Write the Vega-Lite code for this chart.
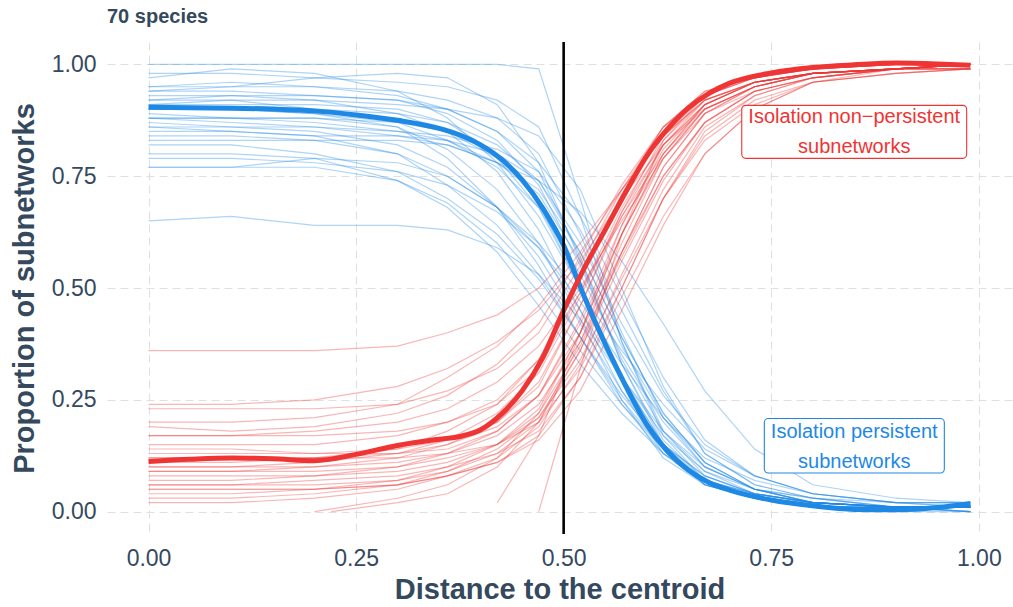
{
"$schema":"https://vega.github.io/schema/vega-lite/v6.json",
"autosize":{"type":"none"},
"padding":{"left":107,"top":42,"right":1,"bottom":73},
"width":905,"height":492,
"background":"white",
"title":{"text":"70 species","anchor":"start","frame":"group","fontSize":20,"fontWeight":"bold","color":"#34495E","font":"Liberation Sans","offset":14},
"config":{"view":{"stroke":null},"font":"Liberation Sans","axis":{"domain":false,"ticks":false,"grid":true,"gridColor":"#E0E0E0","gridDash":[8,5],"gridWidth":1.1,"labelFont":"Liberation Sans","labelFontSize":23,"labelColor":"#34495E","titleFont":"Liberation Sans","titleFontSize":29,"titleFontWeight":"bold","titleColor":"#34495E"}},
"datasets":{
"thin":[
{"g":"B","s":1,"x":0,"y":1},{"g":"B","s":1,"x":0.1,"y":1},{"g":"B","s":1,"x":0.2,"y":1},{"g":"B","s":1,"x":0.3,"y":1},{"g":"B","s":1,"x":0.36,"y":1},{"g":"B","s":1,"x":0.42,"y":1},{"g":"B","s":1,"x":0.47,"y":0.99},{"g":"B","s":1,"x":0.52,"y":0.7},{"g":"B","s":1,"x":0.57,"y":0.38},{"g":"B","s":1,"x":0.62,"y":0.17},{"g":"B","s":1,"x":0.67,"y":0.07},{"g":"B","s":1,"x":0.73,"y":0.03},{"g":"B","s":1,"x":0.8,"y":0.01},{"g":"B","s":1,"x":0.9,"y":0},{"g":"B","s":1,"x":0.99,"y":0},
{"g":"B","s":2,"x":0,"y":0.98},{"g":"B","s":2,"x":0.1,"y":0.98},{"g":"B","s":2,"x":0.2,"y":0.97},{"g":"B","s":2,"x":0.3,"y":0.96},{"g":"B","s":2,"x":0.36,"y":0.95},{"g":"B","s":2,"x":0.42,"y":0.92},{"g":"B","s":2,"x":0.47,"y":0.86},{"g":"B","s":2,"x":0.52,"y":0.66},{"g":"B","s":2,"x":0.57,"y":0.38},{"g":"B","s":2,"x":0.62,"y":0.18},{"g":"B","s":2,"x":0.67,"y":0.08},{"g":"B","s":2,"x":0.73,"y":0.04},{"g":"B","s":2,"x":0.8,"y":0.02},{"g":"B","s":2,"x":0.9,"y":0.01},{"g":"B","s":2,"x":0.99,"y":0.01},
{"g":"B","s":3,"x":0,"y":0.97},{"g":"B","s":3,"x":0.1,"y":0.99},{"g":"B","s":3,"x":0.2,"y":0.98},{"g":"B","s":3,"x":0.3,"y":0.94},{"g":"B","s":3,"x":0.36,"y":0.88},{"g":"B","s":3,"x":0.42,"y":0.78},{"g":"B","s":3,"x":0.47,"y":0.66},{"g":"B","s":3,"x":0.52,"y":0.5},{"g":"B","s":3,"x":0.57,"y":0.3},{"g":"B","s":3,"x":0.62,"y":0.15},{"g":"B","s":3,"x":0.67,"y":0.06},{"g":"B","s":3,"x":0.73,"y":0.03},{"g":"B","s":3,"x":0.8,"y":0.01},{"g":"B","s":3,"x":0.9,"y":0.01},{"g":"B","s":3,"x":0.99,"y":0},
{"g":"B","s":4,"x":0,"y":0.95},{"g":"B","s":4,"x":0.1,"y":0.95},{"g":"B","s":4,"x":0.2,"y":0.95},{"g":"B","s":4,"x":0.3,"y":0.94},{"g":"B","s":4,"x":0.36,"y":0.92},{"g":"B","s":4,"x":0.42,"y":0.88},{"g":"B","s":4,"x":0.47,"y":0.8},{"g":"B","s":4,"x":0.52,"y":0.62},{"g":"B","s":4,"x":0.57,"y":0.4},{"g":"B","s":4,"x":0.62,"y":0.21},{"g":"B","s":4,"x":0.67,"y":0.1},{"g":"B","s":4,"x":0.73,"y":0.05},{"g":"B","s":4,"x":0.8,"y":0.02},{"g":"B","s":4,"x":0.9,"y":0.01},{"g":"B","s":4,"x":0.99,"y":0.01},
{"g":"B","s":5,"x":0,"y":0.94},{"g":"B","s":5,"x":0.1,"y":0.94},{"g":"B","s":5,"x":0.2,"y":0.93},{"g":"B","s":5,"x":0.3,"y":0.92},{"g":"B","s":5,"x":0.36,"y":0.89},{"g":"B","s":5,"x":0.42,"y":0.83},{"g":"B","s":5,"x":0.47,"y":0.73},{"g":"B","s":5,"x":0.52,"y":0.55},{"g":"B","s":5,"x":0.57,"y":0.34},{"g":"B","s":5,"x":0.62,"y":0.18},{"g":"B","s":5,"x":0.67,"y":0.09},{"g":"B","s":5,"x":0.73,"y":0.04},{"g":"B","s":5,"x":0.8,"y":0.02},{"g":"B","s":5,"x":0.9,"y":0.01},{"g":"B","s":5,"x":0.99,"y":0.01},
{"g":"B","s":6,"x":0,"y":0.93},{"g":"B","s":6,"x":0.1,"y":0.93},{"g":"B","s":6,"x":0.2,"y":0.92},{"g":"B","s":6,"x":0.3,"y":0.89},{"g":"B","s":6,"x":0.36,"y":0.85},{"g":"B","s":6,"x":0.42,"y":0.76},{"g":"B","s":6,"x":0.47,"y":0.63},{"g":"B","s":6,"x":0.52,"y":0.45},{"g":"B","s":6,"x":0.57,"y":0.27},{"g":"B","s":6,"x":0.62,"y":0.13},{"g":"B","s":6,"x":0.67,"y":0.06},{"g":"B","s":6,"x":0.73,"y":0.03},{"g":"B","s":6,"x":0.8,"y":0.01},{"g":"B","s":6,"x":0.9,"y":0.01},{"g":"B","s":6,"x":0.99,"y":0},
{"g":"B","s":7,"x":0,"y":0.92},{"g":"B","s":7,"x":0.1,"y":0.92},{"g":"B","s":7,"x":0.2,"y":0.9},{"g":"B","s":7,"x":0.3,"y":0.89},{"g":"B","s":7,"x":0.36,"y":0.87},{"g":"B","s":7,"x":0.42,"y":0.82},{"g":"B","s":7,"x":0.47,"y":0.74},{"g":"B","s":7,"x":0.52,"y":0.58},{"g":"B","s":7,"x":0.57,"y":0.39},{"g":"B","s":7,"x":0.62,"y":0.22},{"g":"B","s":7,"x":0.67,"y":0.11},{"g":"B","s":7,"x":0.73,"y":0.05},{"g":"B","s":7,"x":0.8,"y":0.02},{"g":"B","s":7,"x":0.9,"y":0.01},{"g":"B","s":7,"x":0.99,"y":0.01},
{"g":"B","s":8,"x":0,"y":0.91},{"g":"B","s":8,"x":0.1,"y":0.91},{"g":"B","s":8,"x":0.2,"y":0.91},{"g":"B","s":8,"x":0.3,"y":0.9},{"g":"B","s":8,"x":0.36,"y":0.87},{"g":"B","s":8,"x":0.42,"y":0.8},{"g":"B","s":8,"x":0.47,"y":0.69},{"g":"B","s":8,"x":0.52,"y":0.5},{"g":"B","s":8,"x":0.57,"y":0.3},{"g":"B","s":8,"x":0.62,"y":0.15},{"g":"B","s":8,"x":0.67,"y":0.07},{"g":"B","s":8,"x":0.73,"y":0.03},{"g":"B","s":8,"x":0.8,"y":0.01},{"g":"B","s":8,"x":0.9,"y":0.01},{"g":"B","s":8,"x":0.99,"y":0.01},
{"g":"B","s":9,"x":0,"y":0.9},{"g":"B","s":9,"x":0.1,"y":0.9},{"g":"B","s":9,"x":0.2,"y":0.89},{"g":"B","s":9,"x":0.3,"y":0.87},{"g":"B","s":9,"x":0.36,"y":0.83},{"g":"B","s":9,"x":0.42,"y":0.77},{"g":"B","s":9,"x":0.47,"y":0.68},{"g":"B","s":9,"x":0.52,"y":0.53},{"g":"B","s":9,"x":0.57,"y":0.35},{"g":"B","s":9,"x":0.62,"y":0.2},{"g":"B","s":9,"x":0.67,"y":0.1},{"g":"B","s":9,"x":0.73,"y":0.05},{"g":"B","s":9,"x":0.8,"y":0.03},{"g":"B","s":9,"x":0.9,"y":0.02},{"g":"B","s":9,"x":0.99,"y":0.02},
{"g":"B","s":10,"x":0,"y":0.89},{"g":"B","s":10,"x":0.1,"y":0.88},{"g":"B","s":10,"x":0.2,"y":0.88},{"g":"B","s":10,"x":0.3,"y":0.86},{"g":"B","s":10,"x":0.36,"y":0.81},{"g":"B","s":10,"x":0.42,"y":0.72},{"g":"B","s":10,"x":0.47,"y":0.6},{"g":"B","s":10,"x":0.52,"y":0.43},{"g":"B","s":10,"x":0.57,"y":0.25},{"g":"B","s":10,"x":0.62,"y":0.12},{"g":"B","s":10,"x":0.67,"y":0.06},{"g":"B","s":10,"x":0.73,"y":0.03},{"g":"B","s":10,"x":0.8,"y":0.01},{"g":"B","s":10,"x":0.9,"y":0.01},{"g":"B","s":10,"x":0.99,"y":0.01},
{"g":"B","s":11,"x":0,"y":0.88},{"g":"B","s":11,"x":0.1,"y":0.88},{"g":"B","s":11,"x":0.2,"y":0.87},{"g":"B","s":11,"x":0.3,"y":0.85},{"g":"B","s":11,"x":0.36,"y":0.83},{"g":"B","s":11,"x":0.42,"y":0.78},{"g":"B","s":11,"x":0.47,"y":0.71},{"g":"B","s":11,"x":0.52,"y":0.56},{"g":"B","s":11,"x":0.57,"y":0.37},{"g":"B","s":11,"x":0.62,"y":0.21},{"g":"B","s":11,"x":0.67,"y":0.11},{"g":"B","s":11,"x":0.73,"y":0.05},{"g":"B","s":11,"x":0.8,"y":0.02},{"g":"B","s":11,"x":0.9,"y":0.01},{"g":"B","s":11,"x":0.99,"y":0.01},
{"g":"B","s":12,"x":0,"y":0.88},{"g":"B","s":12,"x":0.1,"y":0.88},{"g":"B","s":12,"x":0.2,"y":0.88},{"g":"B","s":12,"x":0.3,"y":0.87},{"g":"B","s":12,"x":0.36,"y":0.85},{"g":"B","s":12,"x":0.42,"y":0.79},{"g":"B","s":12,"x":0.47,"y":0.68},{"g":"B","s":12,"x":0.52,"y":0.5},{"g":"B","s":12,"x":0.57,"y":0.3},{"g":"B","s":12,"x":0.62,"y":0.14},{"g":"B","s":12,"x":0.67,"y":0.06},{"g":"B","s":12,"x":0.73,"y":0.03},{"g":"B","s":12,"x":0.8,"y":0.01},{"g":"B","s":12,"x":0.9,"y":0.01},{"g":"B","s":12,"x":0.99,"y":0},
{"g":"B","s":13,"x":0,"y":0.87},{"g":"B","s":13,"x":0.1,"y":0.86},{"g":"B","s":13,"x":0.2,"y":0.85},{"g":"B","s":13,"x":0.3,"y":0.82},{"g":"B","s":13,"x":0.36,"y":0.77},{"g":"B","s":13,"x":0.42,"y":0.68},{"g":"B","s":13,"x":0.47,"y":0.57},{"g":"B","s":13,"x":0.52,"y":0.42},{"g":"B","s":13,"x":0.57,"y":0.27},{"g":"B","s":13,"x":0.62,"y":0.15},{"g":"B","s":13,"x":0.67,"y":0.08},{"g":"B","s":13,"x":0.73,"y":0.04},{"g":"B","s":13,"x":0.8,"y":0.02},{"g":"B","s":13,"x":0.9,"y":0.01},{"g":"B","s":13,"x":0.99,"y":0.01},
{"g":"B","s":14,"x":0,"y":0.86},{"g":"B","s":14,"x":0.1,"y":0.86},{"g":"B","s":14,"x":0.2,"y":0.86},{"g":"B","s":14,"x":0.3,"y":0.85},{"g":"B","s":14,"x":0.36,"y":0.84},{"g":"B","s":14,"x":0.42,"y":0.81},{"g":"B","s":14,"x":0.47,"y":0.76},{"g":"B","s":14,"x":0.52,"y":0.63},{"g":"B","s":14,"x":0.57,"y":0.45},{"g":"B","s":14,"x":0.62,"y":0.27},{"g":"B","s":14,"x":0.67,"y":0.13},{"g":"B","s":14,"x":0.73,"y":0.06},{"g":"B","s":14,"x":0.8,"y":0.03},{"g":"B","s":14,"x":0.9,"y":0.01},{"g":"B","s":14,"x":0.99,"y":0.01},
{"g":"B","s":15,"x":0,"y":0.84},{"g":"B","s":15,"x":0.1,"y":0.84},{"g":"B","s":15,"x":0.2,"y":0.83},{"g":"B","s":15,"x":0.3,"y":0.8},{"g":"B","s":15,"x":0.36,"y":0.75},{"g":"B","s":15,"x":0.42,"y":0.68},{"g":"B","s":15,"x":0.47,"y":0.59},{"g":"B","s":15,"x":0.52,"y":0.45},{"g":"B","s":15,"x":0.57,"y":0.3},{"g":"B","s":15,"x":0.62,"y":0.17},{"g":"B","s":15,"x":0.67,"y":0.09},{"g":"B","s":15,"x":0.73,"y":0.05},{"g":"B","s":15,"x":0.8,"y":0.02},{"g":"B","s":15,"x":0.9,"y":0.01},{"g":"B","s":15,"x":0.99,"y":0.01},
{"g":"B","s":16,"x":0,"y":0.83},{"g":"B","s":16,"x":0.1,"y":0.83},{"g":"B","s":16,"x":0.2,"y":0.83},{"g":"B","s":16,"x":0.3,"y":0.83},{"g":"B","s":16,"x":0.36,"y":0.82},{"g":"B","s":16,"x":0.42,"y":0.78},{"g":"B","s":16,"x":0.47,"y":0.72},{"g":"B","s":16,"x":0.52,"y":0.58},{"g":"B","s":16,"x":0.57,"y":0.39},{"g":"B","s":16,"x":0.62,"y":0.22},{"g":"B","s":16,"x":0.67,"y":0.11},{"g":"B","s":16,"x":0.73,"y":0.05},{"g":"B","s":16,"x":0.8,"y":0.02},{"g":"B","s":16,"x":0.9,"y":0.01},{"g":"B","s":16,"x":0.99,"y":0.01},
{"g":"B","s":17,"x":0,"y":0.82},{"g":"B","s":17,"x":0.1,"y":0.82},{"g":"B","s":17,"x":0.2,"y":0.8},{"g":"B","s":17,"x":0.3,"y":0.76},{"g":"B","s":17,"x":0.36,"y":0.7},{"g":"B","s":17,"x":0.42,"y":0.62},{"g":"B","s":17,"x":0.47,"y":0.52},{"g":"B","s":17,"x":0.52,"y":0.39},{"g":"B","s":17,"x":0.57,"y":0.26},{"g":"B","s":17,"x":0.62,"y":0.15},{"g":"B","s":17,"x":0.67,"y":0.08},{"g":"B","s":17,"x":0.73,"y":0.04},{"g":"B","s":17,"x":0.8,"y":0.02},{"g":"B","s":17,"x":0.9,"y":0.01},{"g":"B","s":17,"x":0.99,"y":0.01},
{"g":"B","s":18,"x":0,"y":0.79},{"g":"B","s":18,"x":0.1,"y":0.79},{"g":"B","s":18,"x":0.2,"y":0.78},{"g":"B","s":18,"x":0.3,"y":0.76},{"g":"B","s":18,"x":0.36,"y":0.73},{"g":"B","s":18,"x":0.42,"y":0.67},{"g":"B","s":18,"x":0.47,"y":0.59},{"g":"B","s":18,"x":0.52,"y":0.47},{"g":"B","s":18,"x":0.57,"y":0.33},{"g":"B","s":18,"x":0.62,"y":0.21},{"g":"B","s":18,"x":0.67,"y":0.12},{"g":"B","s":18,"x":0.73,"y":0.07},{"g":"B","s":18,"x":0.8,"y":0.04},{"g":"B","s":18,"x":0.9,"y":0.02},{"g":"B","s":18,"x":0.99,"y":0.02},
{"g":"B","s":19,"x":0,"y":0.77},{"g":"B","s":19,"x":0.1,"y":0.77},{"g":"B","s":19,"x":0.2,"y":0.77},{"g":"B","s":19,"x":0.3,"y":0.74},{"g":"B","s":19,"x":0.36,"y":0.69},{"g":"B","s":19,"x":0.42,"y":0.6},{"g":"B","s":19,"x":0.47,"y":0.49},{"g":"B","s":19,"x":0.52,"y":0.36},{"g":"B","s":19,"x":0.57,"y":0.24},{"g":"B","s":19,"x":0.62,"y":0.14},{"g":"B","s":19,"x":0.67,"y":0.07},{"g":"B","s":19,"x":0.73,"y":0.04},{"g":"B","s":19,"x":0.8,"y":0.02},{"g":"B","s":19,"x":0.9,"y":0.01},{"g":"B","s":19,"x":0.99,"y":0.01},
{"g":"B","s":20,"x":0,"y":0.77},{"g":"B","s":20,"x":0.1,"y":0.77},{"g":"B","s":20,"x":0.2,"y":0.79},{"g":"B","s":20,"x":0.3,"y":0.78},{"g":"B","s":20,"x":0.36,"y":0.75},{"g":"B","s":20,"x":0.42,"y":0.68},{"g":"B","s":20,"x":0.47,"y":0.6},{"g":"B","s":20,"x":0.52,"y":0.49},{"g":"B","s":20,"x":0.57,"y":0.36},{"g":"B","s":20,"x":0.62,"y":0.24},{"g":"B","s":20,"x":0.67,"y":0.14},{"g":"B","s":20,"x":0.73,"y":0.08},{"g":"B","s":20,"x":0.8,"y":0.04},{"g":"B","s":20,"x":0.9,"y":0.02},{"g":"B","s":20,"x":0.99,"y":0.01},
{"g":"B","s":21,"x":0,"y":0.65},{"g":"B","s":21,"x":0.1,"y":0.66},{"g":"B","s":21,"x":0.2,"y":0.64},{"g":"B","s":21,"x":0.3,"y":0.64},{"g":"B","s":21,"x":0.36,"y":0.63},{"g":"B","s":21,"x":0.42,"y":0.59},{"g":"B","s":21,"x":0.47,"y":0.53},{"g":"B","s":21,"x":0.52,"y":0.43},{"g":"B","s":21,"x":0.57,"y":0.3},{"g":"B","s":21,"x":0.62,"y":0.18},{"g":"B","s":21,"x":0.67,"y":0.1},{"g":"B","s":21,"x":0.73,"y":0.05},{"g":"B","s":21,"x":0.8,"y":0.03},{"g":"B","s":21,"x":0.9,"y":0.01},{"g":"B","s":21,"x":0.99,"y":0.01},
{"g":"B","s":22,"x":0,"y":0.95},{"g":"B","s":22,"x":0.1,"y":0.96},{"g":"B","s":22,"x":0.2,"y":0.95},{"g":"B","s":22,"x":0.3,"y":0.93},{"g":"B","s":22,"x":0.36,"y":0.9},{"g":"B","s":22,"x":0.42,"y":0.85},{"g":"B","s":22,"x":0.47,"y":0.78},{"g":"B","s":22,"x":0.52,"y":0.66},{"g":"B","s":22,"x":0.57,"y":0.48},{"g":"B","s":22,"x":0.62,"y":0.3},{"g":"B","s":22,"x":0.67,"y":0.16},{"g":"B","s":22,"x":0.73,"y":0.08},{"g":"B","s":22,"x":0.8,"y":0.04},{"g":"B","s":22,"x":0.9,"y":0.02},{"g":"B","s":22,"x":0.99,"y":0.01},
{"g":"B","s":23,"x":0,"y":0.9},{"g":"B","s":23,"x":0.1,"y":0.9},{"g":"B","s":23,"x":0.2,"y":0.89},{"g":"B","s":23,"x":0.3,"y":0.86},{"g":"B","s":23,"x":0.36,"y":0.79},{"g":"B","s":23,"x":0.42,"y":0.68},{"g":"B","s":23,"x":0.47,"y":0.55},{"g":"B","s":23,"x":0.52,"y":0.39},{"g":"B","s":23,"x":0.57,"y":0.24},{"g":"B","s":23,"x":0.62,"y":0.13},{"g":"B","s":23,"x":0.67,"y":0.07},{"g":"B","s":23,"x":0.73,"y":0.03},{"g":"B","s":23,"x":0.8,"y":0.02},{"g":"B","s":23,"x":0.9,"y":0.01},{"g":"B","s":23,"x":0.99,"y":0.01},
{"g":"B","s":24,"x":0,"y":0.92},{"g":"B","s":24,"x":0.1,"y":0.93},{"g":"B","s":24,"x":0.2,"y":0.93},{"g":"B","s":24,"x":0.3,"y":0.92},{"g":"B","s":24,"x":0.36,"y":0.9},{"g":"B","s":24,"x":0.42,"y":0.85},{"g":"B","s":24,"x":0.47,"y":0.76},{"g":"B","s":24,"x":0.52,"y":0.57},{"g":"B","s":24,"x":0.57,"y":0.33},{"g":"B","s":24,"x":0.62,"y":0.15},{"g":"B","s":24,"x":0.67,"y":0.06},{"g":"B","s":24,"x":0.73,"y":0.03},{"g":"B","s":24,"x":0.8,"y":0.01},{"g":"B","s":24,"x":0.9,"y":0.01},{"g":"B","s":24,"x":0.99,"y":0},
{"g":"B","s":25,"x":0,"y":0.86},{"g":"B","s":25,"x":0.1,"y":0.85},{"g":"B","s":25,"x":0.2,"y":0.84},{"g":"B","s":25,"x":0.3,"y":0.8},{"g":"B","s":25,"x":0.36,"y":0.73},{"g":"B","s":25,"x":0.42,"y":0.64},{"g":"B","s":25,"x":0.47,"y":0.53},{"g":"B","s":25,"x":0.52,"y":0.39},{"g":"B","s":25,"x":0.57,"y":0.25},{"g":"B","s":25,"x":0.62,"y":0.14},{"g":"B","s":25,"x":0.67,"y":0.07},{"g":"B","s":25,"x":0.73,"y":0.04},{"g":"B","s":25,"x":0.8,"y":0.02},{"g":"B","s":25,"x":0.9,"y":0.01},{"g":"B","s":25,"x":0.99,"y":0.01},
{"g":"B","s":26,"x":0,"y":0.94},{"g":"B","s":26,"x":0.1,"y":0.95},{"g":"B","s":26,"x":0.2,"y":0.97},{"g":"B","s":26,"x":0.3,"y":0.98},{"g":"B","s":26,"x":0.36,"y":0.97},{"g":"B","s":26,"x":0.42,"y":0.91},{"g":"B","s":26,"x":0.47,"y":0.78},{"g":"B","s":26,"x":0.52,"y":0.56},{"g":"B","s":26,"x":0.57,"y":0.33},{"g":"B","s":26,"x":0.62,"y":0.16},{"g":"B","s":26,"x":0.67,"y":0.07},{"g":"B","s":26,"x":0.73,"y":0.03},{"g":"B","s":26,"x":0.8,"y":0.01},{"g":"B","s":26,"x":0.9,"y":0.01},{"g":"B","s":26,"x":0.99,"y":0},
{"g":"B","s":27,"x":0,"y":0.88},{"g":"B","s":27,"x":0.1,"y":0.87},{"g":"B","s":27,"x":0.2,"y":0.86},{"g":"B","s":27,"x":0.3,"y":0.84},{"g":"B","s":27,"x":0.36,"y":0.82},{"g":"B","s":27,"x":0.42,"y":0.78},{"g":"B","s":27,"x":0.47,"y":0.74},{"g":"B","s":27,"x":0.52,"y":0.67},{"g":"B","s":27,"x":0.57,"y":0.56},{"g":"B","s":27,"x":0.62,"y":0.42},{"g":"B","s":27,"x":0.67,"y":0.27},{"g":"B","s":27,"x":0.73,"y":0.14},{"g":"B","s":27,"x":0.8,"y":0.06},{"g":"B","s":27,"x":0.9,"y":0.03},{"g":"B","s":27,"x":0.99,"y":0.02},
{"g":"B","s":28,"x":0,"y":0.8},{"g":"B","s":28,"x":0.1,"y":0.8},{"g":"B","s":28,"x":0.2,"y":0.79},{"g":"B","s":28,"x":0.3,"y":0.74},{"g":"B","s":28,"x":0.36,"y":0.68},{"g":"B","s":28,"x":0.42,"y":0.58},{"g":"B","s":28,"x":0.47,"y":0.46},{"g":"B","s":28,"x":0.52,"y":0.33},{"g":"B","s":28,"x":0.57,"y":0.22},{"g":"B","s":28,"x":0.62,"y":0.13},{"g":"B","s":28,"x":0.67,"y":0.07},{"g":"B","s":28,"x":0.73,"y":0.04},{"g":"B","s":28,"x":0.8,"y":0.02},{"g":"B","s":28,"x":0.9,"y":0.01},{"g":"B","s":28,"x":0.99,"y":0.01},
{"g":"B","s":29,"x":0,"y":0.91},{"g":"B","s":29,"x":0.1,"y":0.92},{"g":"B","s":29,"x":0.2,"y":0.92},{"g":"B","s":29,"x":0.3,"y":0.91},{"g":"B","s":29,"x":0.36,"y":0.9},{"g":"B","s":29,"x":0.42,"y":0.88},{"g":"B","s":29,"x":0.47,"y":0.84},{"g":"B","s":29,"x":0.52,"y":0.72},{"g":"B","s":29,"x":0.57,"y":0.5},{"g":"B","s":29,"x":0.62,"y":0.28},{"g":"B","s":29,"x":0.67,"y":0.13},{"g":"B","s":29,"x":0.73,"y":0.06},{"g":"B","s":29,"x":0.8,"y":0.03},{"g":"B","s":29,"x":0.9,"y":0.01},{"g":"B","s":29,"x":0.99,"y":0.01},
{"g":"B","s":30,"x":0,"y":0.85},{"g":"B","s":30,"x":0.1,"y":0.85},{"g":"B","s":30,"x":0.2,"y":0.84},{"g":"B","s":30,"x":0.3,"y":0.84},{"g":"B","s":30,"x":0.36,"y":0.83},{"g":"B","s":30,"x":0.42,"y":0.8},{"g":"B","s":30,"x":0.47,"y":0.74},{"g":"B","s":30,"x":0.52,"y":0.6},{"g":"B","s":30,"x":0.57,"y":0.42},{"g":"B","s":30,"x":0.62,"y":0.26},{"g":"B","s":30,"x":0.67,"y":0.15},{"g":"B","s":30,"x":0.73,"y":0.08},{"g":"B","s":30,"x":0.8,"y":0.04},{"g":"B","s":30,"x":0.9,"y":0.02},{"g":"B","s":30,"x":0.99,"y":0.02},
{"g":"R","s":31,"x":0,"y":0.36},{"g":"R","s":31,"x":0.1,"y":0.36},{"g":"R","s":31,"x":0.2,"y":0.36},{"g":"R","s":31,"x":0.3,"y":0.37},{"g":"R","s":31,"x":0.36,"y":0.4},{"g":"R","s":31,"x":0.42,"y":0.44},{"g":"R","s":31,"x":0.47,"y":0.5},{"g":"R","s":31,"x":0.52,"y":0.6},{"g":"R","s":31,"x":0.57,"y":0.72},{"g":"R","s":31,"x":0.62,"y":0.84},{"g":"R","s":31,"x":0.67,"y":0.92},{"g":"R","s":31,"x":0.73,"y":0.96},{"g":"R","s":31,"x":0.8,"y":0.98},{"g":"R","s":31,"x":0.9,"y":0.99},{"g":"R","s":31,"x":0.99,"y":1},
{"g":"R","s":32,"x":0,"y":0.24},{"g":"R","s":32,"x":0.1,"y":0.24},{"g":"R","s":32,"x":0.2,"y":0.25},{"g":"R","s":32,"x":0.3,"y":0.28},{"g":"R","s":32,"x":0.36,"y":0.32},{"g":"R","s":32,"x":0.42,"y":0.38},{"g":"R","s":32,"x":0.47,"y":0.45},{"g":"R","s":32,"x":0.52,"y":0.56},{"g":"R","s":32,"x":0.57,"y":0.7},{"g":"R","s":32,"x":0.62,"y":0.82},{"g":"R","s":32,"x":0.67,"y":0.9},{"g":"R","s":32,"x":0.73,"y":0.95},{"g":"R","s":32,"x":0.8,"y":0.98},{"g":"R","s":32,"x":0.9,"y":0.99},{"g":"R","s":32,"x":0.99,"y":0.99},
{"g":"R","s":33,"x":0,"y":0.23},{"g":"R","s":33,"x":0.1,"y":0.23},{"g":"R","s":33,"x":0.2,"y":0.23},{"g":"R","s":33,"x":0.3,"y":0.24},{"g":"R","s":33,"x":0.36,"y":0.27},{"g":"R","s":33,"x":0.42,"y":0.32},{"g":"R","s":33,"x":0.47,"y":0.4},{"g":"R","s":33,"x":0.52,"y":0.55},{"g":"R","s":33,"x":0.57,"y":0.72},{"g":"R","s":33,"x":0.62,"y":0.86},{"g":"R","s":33,"x":0.67,"y":0.94},{"g":"R","s":33,"x":0.73,"y":0.97},{"g":"R","s":33,"x":0.8,"y":0.99},{"g":"R","s":33,"x":0.9,"y":1},{"g":"R","s":33,"x":0.99,"y":1},
{"g":"R","s":34,"x":0,"y":0.19},{"g":"R","s":34,"x":0.1,"y":0.18},{"g":"R","s":34,"x":0.2,"y":0.19},{"g":"R","s":34,"x":0.3,"y":0.22},{"g":"R","s":34,"x":0.36,"y":0.26},{"g":"R","s":34,"x":0.42,"y":0.33},{"g":"R","s":34,"x":0.47,"y":0.42},{"g":"R","s":34,"x":0.52,"y":0.57},{"g":"R","s":34,"x":0.57,"y":0.73},{"g":"R","s":34,"x":0.62,"y":0.86},{"g":"R","s":34,"x":0.67,"y":0.93},{"g":"R","s":34,"x":0.73,"y":0.97},{"g":"R","s":34,"x":0.8,"y":0.99},{"g":"R","s":34,"x":0.9,"y":1},{"g":"R","s":34,"x":0.99,"y":1},
{"g":"R","s":35,"x":0,"y":0.17},{"g":"R","s":35,"x":0.1,"y":0.17},{"g":"R","s":35,"x":0.2,"y":0.17},{"g":"R","s":35,"x":0.3,"y":0.18},{"g":"R","s":35,"x":0.36,"y":0.2},{"g":"R","s":35,"x":0.42,"y":0.24},{"g":"R","s":35,"x":0.47,"y":0.32},{"g":"R","s":35,"x":0.52,"y":0.49},{"g":"R","s":35,"x":0.57,"y":0.68},{"g":"R","s":35,"x":0.62,"y":0.83},{"g":"R","s":35,"x":0.67,"y":0.92},{"g":"R","s":35,"x":0.73,"y":0.96},{"g":"R","s":35,"x":0.8,"y":0.98},{"g":"R","s":35,"x":0.9,"y":0.99},{"g":"R","s":35,"x":0.99,"y":1},
{"g":"R","s":36,"x":0,"y":0.17},{"g":"R","s":36,"x":0.1,"y":0.17},{"g":"R","s":36,"x":0.2,"y":0.18},{"g":"R","s":36,"x":0.3,"y":0.2},{"g":"R","s":36,"x":0.36,"y":0.23},{"g":"R","s":36,"x":0.42,"y":0.29},{"g":"R","s":36,"x":0.47,"y":0.37},{"g":"R","s":36,"x":0.52,"y":0.5},{"g":"R","s":36,"x":0.57,"y":0.65},{"g":"R","s":36,"x":0.62,"y":0.79},{"g":"R","s":36,"x":0.67,"y":0.89},{"g":"R","s":36,"x":0.73,"y":0.94},{"g":"R","s":36,"x":0.8,"y":0.97},{"g":"R","s":36,"x":0.9,"y":0.99},{"g":"R","s":36,"x":0.99,"y":0.99},
{"g":"R","s":37,"x":0,"y":0.15},{"g":"R","s":37,"x":0.1,"y":0.15},{"g":"R","s":37,"x":0.2,"y":0.15},{"g":"R","s":37,"x":0.3,"y":0.17},{"g":"R","s":37,"x":0.36,"y":0.2},{"g":"R","s":37,"x":0.42,"y":0.25},{"g":"R","s":37,"x":0.47,"y":0.34},{"g":"R","s":37,"x":0.52,"y":0.49},{"g":"R","s":37,"x":0.57,"y":0.66},{"g":"R","s":37,"x":0.62,"y":0.8},{"g":"R","s":37,"x":0.67,"y":0.9},{"g":"R","s":37,"x":0.73,"y":0.95},{"g":"R","s":37,"x":0.8,"y":0.98},{"g":"R","s":37,"x":0.9,"y":0.99},{"g":"R","s":37,"x":0.99,"y":1},
{"g":"R","s":38,"x":0,"y":0.13},{"g":"R","s":38,"x":0.1,"y":0.13},{"g":"R","s":38,"x":0.2,"y":0.13},{"g":"R","s":38,"x":0.3,"y":0.14},{"g":"R","s":38,"x":0.36,"y":0.16},{"g":"R","s":38,"x":0.42,"y":0.2},{"g":"R","s":38,"x":0.47,"y":0.28},{"g":"R","s":38,"x":0.52,"y":0.46},{"g":"R","s":38,"x":0.57,"y":0.67},{"g":"R","s":38,"x":0.62,"y":0.84},{"g":"R","s":38,"x":0.67,"y":0.93},{"g":"R","s":38,"x":0.73,"y":0.97},{"g":"R","s":38,"x":0.8,"y":0.99},{"g":"R","s":38,"x":0.9,"y":1},{"g":"R","s":38,"x":0.99,"y":1},
{"g":"R","s":39,"x":0,"y":0.12},{"g":"R","s":39,"x":0.1,"y":0.12},{"g":"R","s":39,"x":0.2,"y":0.12},{"g":"R","s":39,"x":0.3,"y":0.13},{"g":"R","s":39,"x":0.36,"y":0.15},{"g":"R","s":39,"x":0.42,"y":0.19},{"g":"R","s":39,"x":0.47,"y":0.26},{"g":"R","s":39,"x":0.52,"y":0.4},{"g":"R","s":39,"x":0.57,"y":0.58},{"g":"R","s":39,"x":0.62,"y":0.75},{"g":"R","s":39,"x":0.67,"y":0.87},{"g":"R","s":39,"x":0.73,"y":0.94},{"g":"R","s":39,"x":0.8,"y":0.97},{"g":"R","s":39,"x":0.9,"y":0.99},{"g":"R","s":39,"x":0.99,"y":0.99},
{"g":"R","s":40,"x":0,"y":0.11},{"g":"R","s":40,"x":0.1,"y":0.11},{"g":"R","s":40,"x":0.2,"y":0.12},{"g":"R","s":40,"x":0.3,"y":0.14},{"g":"R","s":40,"x":0.36,"y":0.18},{"g":"R","s":40,"x":0.42,"y":0.24},{"g":"R","s":40,"x":0.47,"y":0.34},{"g":"R","s":40,"x":0.52,"y":0.52},{"g":"R","s":40,"x":0.57,"y":0.71},{"g":"R","s":40,"x":0.62,"y":0.86},{"g":"R","s":40,"x":0.67,"y":0.94},{"g":"R","s":40,"x":0.73,"y":0.97},{"g":"R","s":40,"x":0.8,"y":0.99},{"g":"R","s":40,"x":0.9,"y":1},{"g":"R","s":40,"x":0.99,"y":1},
{"g":"R","s":41,"x":0,"y":0.1},{"g":"R","s":41,"x":0.1,"y":0.1},{"g":"R","s":41,"x":0.2,"y":0.1},{"g":"R","s":41,"x":0.3,"y":0.11},{"g":"R","s":41,"x":0.36,"y":0.13},{"g":"R","s":41,"x":0.42,"y":0.17},{"g":"R","s":41,"x":0.47,"y":0.24},{"g":"R","s":41,"x":0.52,"y":0.38},{"g":"R","s":41,"x":0.57,"y":0.57},{"g":"R","s":41,"x":0.62,"y":0.75},{"g":"R","s":41,"x":0.67,"y":0.87},{"g":"R","s":41,"x":0.73,"y":0.94},{"g":"R","s":41,"x":0.8,"y":0.97},{"g":"R","s":41,"x":0.9,"y":0.99},{"g":"R","s":41,"x":0.99,"y":1},
{"g":"R","s":42,"x":0,"y":0.09},{"g":"R","s":42,"x":0.1,"y":0.09},{"g":"R","s":42,"x":0.2,"y":0.1},{"g":"R","s":42,"x":0.3,"y":0.12},{"g":"R","s":42,"x":0.36,"y":0.15},{"g":"R","s":42,"x":0.42,"y":0.2},{"g":"R","s":42,"x":0.47,"y":0.29},{"g":"R","s":42,"x":0.52,"y":0.46},{"g":"R","s":42,"x":0.57,"y":0.66},{"g":"R","s":42,"x":0.62,"y":0.82},{"g":"R","s":42,"x":0.67,"y":0.91},{"g":"R","s":42,"x":0.73,"y":0.96},{"g":"R","s":42,"x":0.8,"y":0.98},{"g":"R","s":42,"x":0.9,"y":0.99},{"g":"R","s":42,"x":0.99,"y":1},
{"g":"R","s":43,"x":0,"y":0.09},{"g":"R","s":43,"x":0.1,"y":0.09},{"g":"R","s":43,"x":0.2,"y":0.09},{"g":"R","s":43,"x":0.3,"y":0.1},{"g":"R","s":43,"x":0.36,"y":0.12},{"g":"R","s":43,"x":0.42,"y":0.15},{"g":"R","s":43,"x":0.47,"y":0.21},{"g":"R","s":43,"x":0.52,"y":0.34},{"g":"R","s":43,"x":0.57,"y":0.52},{"g":"R","s":43,"x":0.62,"y":0.7},{"g":"R","s":43,"x":0.67,"y":0.83},{"g":"R","s":43,"x":0.73,"y":0.91},{"g":"R","s":43,"x":0.8,"y":0.96},{"g":"R","s":43,"x":0.9,"y":0.98},{"g":"R","s":43,"x":0.99,"y":0.99},
{"g":"R","s":44,"x":0,"y":0.07},{"g":"R","s":44,"x":0.1,"y":0.07},{"g":"R","s":44,"x":0.2,"y":0.08},{"g":"R","s":44,"x":0.3,"y":0.1},{"g":"R","s":44,"x":0.36,"y":0.13},{"g":"R","s":44,"x":0.42,"y":0.18},{"g":"R","s":44,"x":0.47,"y":0.26},{"g":"R","s":44,"x":0.52,"y":0.42},{"g":"R","s":44,"x":0.57,"y":0.62},{"g":"R","s":44,"x":0.62,"y":0.79},{"g":"R","s":44,"x":0.67,"y":0.9},{"g":"R","s":44,"x":0.73,"y":0.95},{"g":"R","s":44,"x":0.8,"y":0.98},{"g":"R","s":44,"x":0.9,"y":0.99},{"g":"R","s":44,"x":0.99,"y":1},
{"g":"R","s":45,"x":0,"y":0.06},{"g":"R","s":45,"x":0.1,"y":0.06},{"g":"R","s":45,"x":0.2,"y":0.06},{"g":"R","s":45,"x":0.3,"y":0.07},{"g":"R","s":45,"x":0.36,"y":0.09},{"g":"R","s":45,"x":0.42,"y":0.13},{"g":"R","s":45,"x":0.47,"y":0.2},{"g":"R","s":45,"x":0.52,"y":0.36},{"g":"R","s":45,"x":0.57,"y":0.58},{"g":"R","s":45,"x":0.62,"y":0.77},{"g":"R","s":45,"x":0.67,"y":0.89},{"g":"R","s":45,"x":0.73,"y":0.95},{"g":"R","s":45,"x":0.8,"y":0.98},{"g":"R","s":45,"x":0.9,"y":0.99},{"g":"R","s":45,"x":0.99,"y":1},
{"g":"R","s":46,"x":0,"y":0.05},{"g":"R","s":46,"x":0.1,"y":0.05},{"g":"R","s":46,"x":0.2,"y":0.05},{"g":"R","s":46,"x":0.3,"y":0.07},{"g":"R","s":46,"x":0.36,"y":0.1},{"g":"R","s":46,"x":0.42,"y":0.15},{"g":"R","s":46,"x":0.47,"y":0.23},{"g":"R","s":46,"x":0.52,"y":0.4},{"g":"R","s":46,"x":0.57,"y":0.62},{"g":"R","s":46,"x":0.62,"y":0.8},{"g":"R","s":46,"x":0.67,"y":0.91},{"g":"R","s":46,"x":0.73,"y":0.96},{"g":"R","s":46,"x":0.8,"y":0.98},{"g":"R","s":46,"x":0.9,"y":0.99},{"g":"R","s":46,"x":0.99,"y":0.99},
{"g":"R","s":47,"x":0,"y":0.03},{"g":"R","s":47,"x":0.1,"y":0.03},{"g":"R","s":47,"x":0.2,"y":0.04},{"g":"R","s":47,"x":0.3,"y":0.06},{"g":"R","s":47,"x":0.36,"y":0.09},{"g":"R","s":47,"x":0.42,"y":0.14},{"g":"R","s":47,"x":0.47,"y":0.21},{"g":"R","s":47,"x":0.52,"y":0.36},{"g":"R","s":47,"x":0.57,"y":0.56},{"g":"R","s":47,"x":0.62,"y":0.74},{"g":"R","s":47,"x":0.67,"y":0.87},{"g":"R","s":47,"x":0.73,"y":0.94},{"g":"R","s":47,"x":0.8,"y":0.97},{"g":"R","s":47,"x":0.9,"y":0.99},{"g":"R","s":47,"x":0.99,"y":1},
{"g":"R","s":48,"x":0,"y":0.02},{"g":"R","s":48,"x":0.1,"y":0.02},{"g":"R","s":48,"x":0.2,"y":0.03},{"g":"R","s":48,"x":0.3,"y":0.05},{"g":"R","s":48,"x":0.36,"y":0.08},{"g":"R","s":48,"x":0.42,"y":0.11},{"g":"R","s":48,"x":0.47,"y":0.17},{"g":"R","s":48,"x":0.52,"y":0.3},{"g":"R","s":48,"x":0.57,"y":0.48},{"g":"R","s":48,"x":0.62,"y":0.66},{"g":"R","s":48,"x":0.67,"y":0.8},{"g":"R","s":48,"x":0.73,"y":0.9},{"g":"R","s":48,"x":0.8,"y":0.96},{"g":"R","s":48,"x":0.9,"y":0.98},{"g":"R","s":48,"x":0.99,"y":0.99},
{"g":"R","s":49,"x":0,"y":0.08},{"g":"R","s":49,"x":0.1,"y":0.08},{"g":"R","s":49,"x":0.2,"y":0.08},{"g":"R","s":49,"x":0.3,"y":0.09},{"g":"R","s":49,"x":0.36,"y":0.11},{"g":"R","s":49,"x":0.42,"y":0.15},{"g":"R","s":49,"x":0.47,"y":0.22},{"g":"R","s":49,"x":0.52,"y":0.37},{"g":"R","s":49,"x":0.57,"y":0.58},{"g":"R","s":49,"x":0.62,"y":0.77},{"g":"R","s":49,"x":0.67,"y":0.89},{"g":"R","s":49,"x":0.73,"y":0.95},{"g":"R","s":49,"x":0.8,"y":0.98},{"g":"R","s":49,"x":0.9,"y":0.99},{"g":"R","s":49,"x":0.99,"y":1},
{"g":"R","s":50,"x":0,"y":0.06},{"g":"R","s":50,"x":0.1,"y":0.06},{"g":"R","s":50,"x":0.2,"y":0.07},{"g":"R","s":50,"x":0.3,"y":0.08},{"g":"R","s":50,"x":0.36,"y":0.1},{"g":"R","s":50,"x":0.42,"y":0.13},{"g":"R","s":50,"x":0.47,"y":0.18},{"g":"R","s":50,"x":0.52,"y":0.3},{"g":"R","s":50,"x":0.57,"y":0.5},{"g":"R","s":50,"x":0.62,"y":0.7},{"g":"R","s":50,"x":0.67,"y":0.84},{"g":"R","s":50,"x":0.73,"y":0.92},{"g":"R","s":50,"x":0.8,"y":0.96},{"g":"R","s":50,"x":0.9,"y":0.99},{"g":"R","s":50,"x":0.99,"y":0.99},
{"g":"R","s":51,"x":0,"y":0.14},{"g":"R","s":51,"x":0.1,"y":0.14},{"g":"R","s":51,"x":0.2,"y":0.13},{"g":"R","s":51,"x":0.3,"y":0.13},{"g":"R","s":51,"x":0.36,"y":0.14},{"g":"R","s":51,"x":0.42,"y":0.18},{"g":"R","s":51,"x":0.47,"y":0.26},{"g":"R","s":51,"x":0.52,"y":0.43},{"g":"R","s":51,"x":0.57,"y":0.64},{"g":"R","s":51,"x":0.62,"y":0.81},{"g":"R","s":51,"x":0.67,"y":0.91},{"g":"R","s":51,"x":0.73,"y":0.96},{"g":"R","s":51,"x":0.8,"y":0.98},{"g":"R","s":51,"x":0.9,"y":0.99},{"g":"R","s":51,"x":0.99,"y":1},
{"g":"R","s":52,"x":0,"y":0.1},{"g":"R","s":52,"x":0.1,"y":0.1},{"g":"R","s":52,"x":0.2,"y":0.11},{"g":"R","s":52,"x":0.3,"y":0.13},{"g":"R","s":52,"x":0.36,"y":0.16},{"g":"R","s":52,"x":0.42,"y":0.22},{"g":"R","s":52,"x":0.47,"y":0.31},{"g":"R","s":52,"x":0.52,"y":0.48},{"g":"R","s":52,"x":0.57,"y":0.67},{"g":"R","s":52,"x":0.62,"y":0.82},{"g":"R","s":52,"x":0.67,"y":0.91},{"g":"R","s":52,"x":0.73,"y":0.96},{"g":"R","s":52,"x":0.8,"y":0.98},{"g":"R","s":52,"x":0.9,"y":0.99},{"g":"R","s":52,"x":0.99,"y":1},
{"g":"R","s":53,"x":0.2,"y":0},{"g":"R","s":53,"x":0.3,"y":0.03},{"g":"R","s":53,"x":0.36,"y":0.06},{"g":"R","s":53,"x":0.42,"y":0.12},{"g":"R","s":53,"x":0.47,"y":0.22},{"g":"R","s":53,"x":0.52,"y":0.4},{"g":"R","s":53,"x":0.57,"y":0.62},{"g":"R","s":53,"x":0.62,"y":0.8},{"g":"R","s":53,"x":0.67,"y":0.91},{"g":"R","s":53,"x":0.73,"y":0.96},{"g":"R","s":53,"x":0.8,"y":0.98},{"g":"R","s":53,"x":0.9,"y":0.99},{"g":"R","s":53,"x":0.99,"y":1},
{"g":"R","s":54,"x":0.42,"y":0.02},{"g":"R","s":54,"x":0.47,"y":0.17},{"g":"R","s":54,"x":0.52,"y":0.4},{"g":"R","s":54,"x":0.57,"y":0.64},{"g":"R","s":54,"x":0.62,"y":0.82},{"g":"R","s":54,"x":0.67,"y":0.92},{"g":"R","s":54,"x":0.73,"y":0.96},{"g":"R","s":54,"x":0.8,"y":0.98},{"g":"R","s":54,"x":0.9,"y":0.99},{"g":"R","s":54,"x":0.99,"y":1},
{"g":"R","s":55,"x":0.47,"y":0},{"g":"R","s":55,"x":0.52,"y":0.32},{"g":"R","s":55,"x":0.57,"y":0.62},{"g":"R","s":55,"x":0.62,"y":0.83},{"g":"R","s":55,"x":0.67,"y":0.93},{"g":"R","s":55,"x":0.73,"y":0.97},{"g":"R","s":55,"x":0.8,"y":0.99},{"g":"R","s":55,"x":0.9,"y":1},{"g":"R","s":55,"x":0.99,"y":1},
{"g":"R","s":56,"x":0,"y":0.05},{"g":"R","s":56,"x":0.1,"y":0.05},{"g":"R","s":56,"x":0.2,"y":0.05},{"g":"R","s":56,"x":0.3,"y":0.06},{"g":"R","s":56,"x":0.36,"y":0.08},{"g":"R","s":56,"x":0.42,"y":0.11},{"g":"R","s":56,"x":0.47,"y":0.16},{"g":"R","s":56,"x":0.52,"y":0.27},{"g":"R","s":56,"x":0.57,"y":0.45},{"g":"R","s":56,"x":0.62,"y":0.64},{"g":"R","s":56,"x":0.67,"y":0.8},{"g":"R","s":56,"x":0.73,"y":0.9},{"g":"R","s":56,"x":0.8,"y":0.96},{"g":"R","s":56,"x":0.9,"y":0.98},{"g":"R","s":56,"x":0.99,"y":0.99},
{"g":"R","s":57,"x":0,"y":0.2},{"g":"R","s":57,"x":0.1,"y":0.2},{"g":"R","s":57,"x":0.2,"y":0.21},{"g":"R","s":57,"x":0.3,"y":0.24},{"g":"R","s":57,"x":0.36,"y":0.3},{"g":"R","s":57,"x":0.42,"y":0.37},{"g":"R","s":57,"x":0.47,"y":0.46},{"g":"R","s":57,"x":0.52,"y":0.58},{"g":"R","s":57,"x":0.57,"y":0.72},{"g":"R","s":57,"x":0.62,"y":0.84},{"g":"R","s":57,"x":0.67,"y":0.92},{"g":"R","s":57,"x":0.73,"y":0.96},{"g":"R","s":57,"x":0.8,"y":0.98},{"g":"R","s":57,"x":0.9,"y":0.99},{"g":"R","s":57,"x":0.99,"y":1},
{"g":"R","s":58,"x":0,"y":0.12},{"g":"R","s":58,"x":0.1,"y":0.12},{"g":"R","s":58,"x":0.2,"y":0.12},{"g":"R","s":58,"x":0.3,"y":0.12},{"g":"R","s":58,"x":0.36,"y":0.13},{"g":"R","s":58,"x":0.42,"y":0.15},{"g":"R","s":58,"x":0.47,"y":0.2},{"g":"R","s":58,"x":0.52,"y":0.32},{"g":"R","s":58,"x":0.57,"y":0.5},{"g":"R","s":58,"x":0.62,"y":0.7},{"g":"R","s":58,"x":0.67,"y":0.85},{"g":"R","s":58,"x":0.73,"y":0.93},{"g":"R","s":58,"x":0.8,"y":0.97},{"g":"R","s":58,"x":0.9,"y":0.99},{"g":"R","s":58,"x":0.99,"y":1},
{"g":"R","s":59,"x":0.22,"y":0},{"g":"R","s":59,"x":0.3,"y":0.02},{"g":"R","s":59,"x":0.36,"y":0.04},{"g":"R","s":59,"x":0.42,"y":0.1},{"g":"R","s":59,"x":0.47,"y":0.2},{"g":"R","s":59,"x":0.52,"y":0.38},{"g":"R","s":59,"x":0.57,"y":0.6},{"g":"R","s":59,"x":0.62,"y":0.79},{"g":"R","s":59,"x":0.67,"y":0.9},{"g":"R","s":59,"x":0.73,"y":0.95},{"g":"R","s":59,"x":0.8,"y":0.98},{"g":"R","s":59,"x":0.9,"y":0.99},{"g":"R","s":59,"x":0.99,"y":1},
{"g":"R","s":60,"x":0,"y":0.04},{"g":"R","s":60,"x":0.1,"y":0.04},{"g":"R","s":60,"x":0.2,"y":0.05},{"g":"R","s":60,"x":0.3,"y":0.06},{"g":"R","s":60,"x":0.36,"y":0.08},{"g":"R","s":60,"x":0.42,"y":0.12},{"g":"R","s":60,"x":0.47,"y":0.19},{"g":"R","s":60,"x":0.52,"y":0.33},{"g":"R","s":60,"x":0.57,"y":0.53},{"g":"R","s":60,"x":0.62,"y":0.72},{"g":"R","s":60,"x":0.67,"y":0.86},{"g":"R","s":60,"x":0.73,"y":0.93},{"g":"R","s":60,"x":0.8,"y":0.97},{"g":"R","s":60,"x":0.9,"y":0.99},{"g":"R","s":60,"x":0.99,"y":1}
],
"mean":[
{"g":"B","x":0,"y":0.904},{"g":"B","x":0.05,"y":0.903},{"g":"B","x":0.1,"y":0.902},{"g":"B","x":0.15,"y":0.9},{"g":"B","x":0.2,"y":0.896},{"g":"B","x":0.25,"y":0.887},{"g":"B","x":0.3,"y":0.875},{"g":"B","x":0.35,"y":0.857},{"g":"B","x":0.375,"y":0.842},{"g":"B","x":0.4,"y":0.82},{"g":"B","x":0.425,"y":0.788},{"g":"B","x":0.45,"y":0.742},{"g":"B","x":0.475,"y":0.678},{"g":"B","x":0.5,"y":0.595},{"g":"B","x":0.525,"y":0.48},{"g":"B","x":0.55,"y":0.375},{"g":"B","x":0.575,"y":0.28},{"g":"B","x":0.6,"y":0.195},{"g":"B","x":0.625,"y":0.135},{"g":"B","x":0.65,"y":0.093},{"g":"B","x":0.675,"y":0.065},{"g":"B","x":0.7,"y":0.048},{"g":"B","x":0.75,"y":0.026},{"g":"B","x":0.8,"y":0.013},{"g":"B","x":0.85,"y":0.005},{"g":"B","x":0.9,"y":0.004},{"g":"B","x":0.95,"y":0.009},{"g":"B","x":0.99,"y":0.018},
{"g":"R","x":0,"y":0.112},{"g":"R","x":0.05,"y":0.117},{"g":"R","x":0.1,"y":0.12},{"g":"R","x":0.15,"y":0.118},{"g":"R","x":0.2,"y":0.114},{"g":"R","x":0.25,"y":0.128},{"g":"R","x":0.3,"y":0.148},{"g":"R","x":0.35,"y":0.162},{"g":"R","x":0.375,"y":0.168},{"g":"R","x":0.4,"y":0.183},{"g":"R","x":0.425,"y":0.218},{"g":"R","x":0.45,"y":0.27},{"g":"R","x":0.475,"y":0.345},{"g":"R","x":0.5,"y":0.45},{"g":"R","x":0.525,"y":0.545},{"g":"R","x":0.55,"y":0.63},{"g":"R","x":0.575,"y":0.715},{"g":"R","x":0.6,"y":0.795},{"g":"R","x":0.625,"y":0.855},{"g":"R","x":0.65,"y":0.902},{"g":"R","x":0.675,"y":0.935},{"g":"R","x":0.7,"y":0.958},{"g":"R","x":0.75,"y":0.981},{"g":"R","x":0.8,"y":0.993},{"g":"R","x":0.85,"y":0.999},{"g":"R","x":0.9,"y":1.003},{"g":"R","x":0.95,"y":1.001},{"g":"R","x":0.99,"y":0.998}
],
"labels":[
{"g":"R","x1":0.7145,"x2":0.9854,"y1":0.7899,"y2":0.9084,"xc":0.85,"yc":0.848,"t":["Isolation non−persistent","subnetworks"]},
{"g":"B","x1":0.7417,"x2":0.9585,"y1":0.0865,"y2":0.2081,"xc":0.85,"yc":0.1455,"t":["Isolation persistent","subnetworks"]}
]
},
"layer":[
{"data":{"name":"thin"},"mark":{"type":"line","strokeWidth":1.2,"opacity":0.36},
 "encoding":{
  "x":{"field":"x","type":"quantitative","title":"Distance to the centroid","scale":{"domain":[-0.05,1.04],"nice":false,"zero":false},"axis":{"values":[0,0.25,0.5,0.75,1],"format":".2f","labelPadding":13,"titlePadding":5}},
  "y":{"field":"y","type":"quantitative","title":"Proportion of subnetworks","scale":{"domain":[-0.05,1.05],"nice":false,"zero":false},"axis":{"values":[0,0.25,0.5,0.75,1],"format":".2f","labelPadding":11,"titlePadding":12}},
  "color":{"field":"g","type":"nominal","scale":{"domain":["B","R"],"range":["#1E88E5","#EF3434"]},"legend":null},
  "detail":{"field":"s","type":"nominal"}}},
{"data":{"name":"mean"},"mark":{"type":"line","strokeWidth":5,"interpolate":"monotone"},
 "encoding":{
  "x":{"field":"x","type":"quantitative","title":"Distance to the centroid"},
  "y":{"field":"y","type":"quantitative","title":"Proportion of subnetworks"},
  "color":{"field":"g","type":"nominal","legend":null}}},
{"data":{"values":[{}]},"mark":{"type":"rule","color":"black","strokeWidth":2.6},"encoding":{"x":{"datum":0.5,"type":"quantitative"}}},
{"data":{"name":"labels"},"mark":{"type":"rect","fill":"white","strokeWidth":1.1,"cornerRadius":4},
 "encoding":{
  "x":{"field":"x1","type":"quantitative","title":"Distance to the centroid"},"x2":{"field":"x2"},
  "y":{"field":"y1","type":"quantitative","title":"Proportion of subnetworks"},"y2":{"field":"y2"},
  "stroke":{"field":"g","type":"nominal","scale":{"domain":["B","R"],"range":["#1E88E5","#EF3434"]},"legend":null}}},
{"data":{"name":"labels"},"mark":{"type":"text","fontSize":20,"lineHeight":30,"align":"center","baseline":"middle","dy":-15,"font":"Liberation Sans"},
 "encoding":{
  "x":{"field":"xc","type":"quantitative","title":"Distance to the centroid"},
  "y":{"field":"yc","type":"quantitative","title":"Proportion of subnetworks"},
  "text":{"field":"t"},
  "color":{"field":"g","type":"nominal","legend":null}}}
]
}
